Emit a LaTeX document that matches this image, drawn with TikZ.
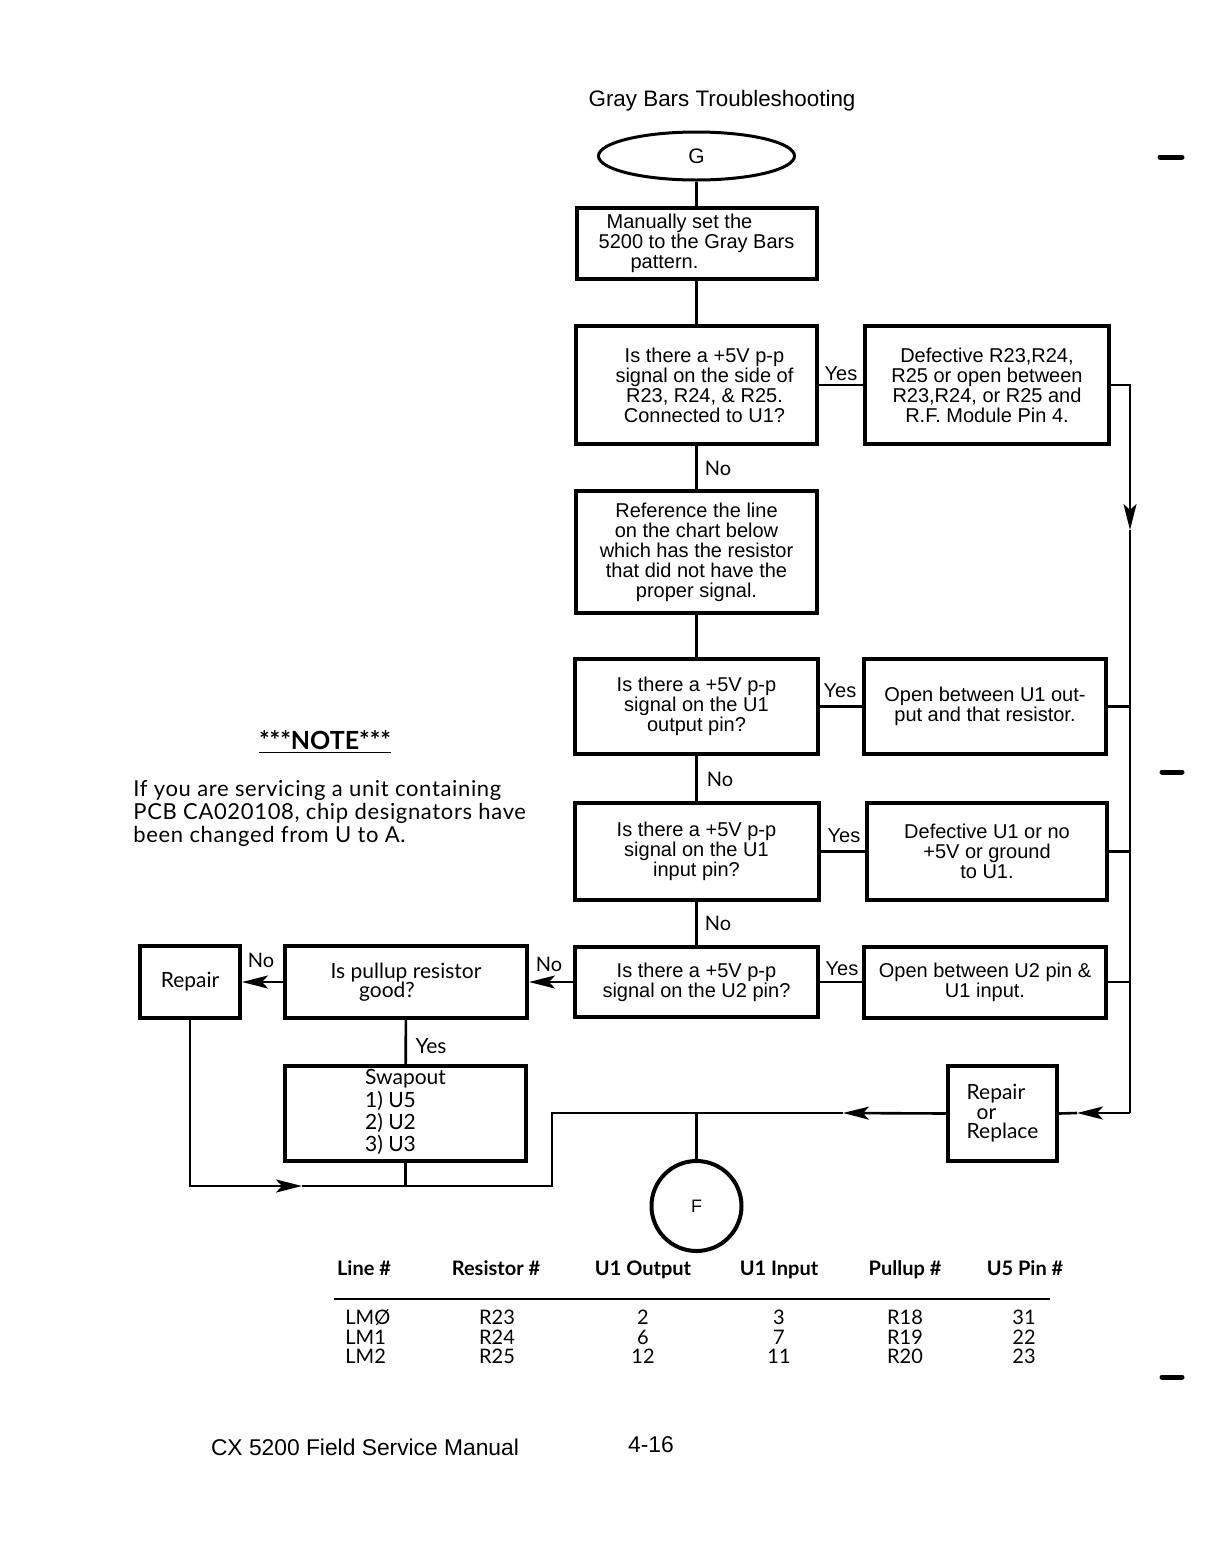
\documentclass[tikz,border=0pt]{standalone}
\usepackage{fontspec}
\setmainfont{Liberation Sans}
\newfontfamily\opt{Lato}
\newfontfamily\optw{Lato}[LetterSpace=3]
\usetikzlibrary{arrows.meta,shapes.geometric}
\begin{document}
\begin{tikzpicture}[x=0.5pt,y=-0.5pt,
  box/.style={draw,line width=2pt,align=center,inner sep=1pt,font=\fontsize{10}{10}\selectfont},
  obox/.style={draw,line width=2pt,align=center,inner sep=1pt,font=\opt\fontsize{10.5}{9.8}\selectfont},
  conn/.style={line width=1.3pt},
  tip/.style={-{Stealth[length=13pt,width=6.5pt,inset=3pt]}},
  lbl/.style={font=\fontsize{10}{10}\selectfont,inner sep=0pt},
  olbl/.style={font=\opt\fontsize{10}{10}\selectfont,inner sep=0pt},
  th/.style={font=\opt\bfseries\fontsize{10}{10}\selectfont,inner sep=0pt,text height=7.5pt,text depth=2pt},
  td/.style={font=\opt\fontsize{10}{10}\selectfont,inner sep=0pt,text height=7.5pt,text depth=2pt},
  edgemark/.style={line width=2.5pt,line cap=round}]
\useasboundingbox (0,0) rectangle (1218,1564);

% title
\node[font=\fontsize{11.2}{12}\selectfont] (title) at (722,101) {Gray Bars Troubleshooting};

% main column
\node[draw,ellipse,line width=1.5pt,minimum width=98pt,minimum height=24pt,inner sep=0pt,font=\fontsize{10.5}{10}\selectfont] (G) at (696.5,156) {G};
\node[box,minimum width=120pt,minimum height=35.5pt] (B1) at (696.5,243.5) {Manually set the\hspace*{17pt}\\5200 to the Gray Bars\hspace*{6pt}\\pattern.\hspace*{32pt}};
\node[box,minimum width=120.5pt,minimum height=59pt] (B2) at (696.5,385) {\hspace*{8pt}Is there a +5V p-p\\\hspace*{8pt}signal on the side of\\\hspace*{8pt}R23, R24, \& R25.\\\hspace*{8pt}Connected to U1?};
\node[box,minimum width=122pt,minimum height=59pt] (R1) at (987,385) {Defective R23,R24,\\R25 or open between\\R23,R24, or R25 and\\R.F. Module Pin 4.};
\node[box,minimum width=120.5pt,minimum height=61pt] (B3) at (696.5,552) {Reference the line\\on the chart below\\which has the resistor\\that did not have the\\proper signal.};
\node[box,minimum width=121.5pt,minimum height=47.5pt] (B4) at (696.5,706.5) {Is there a +5V p-p\\signal on the U1\\output pin?};
\node[box,minimum width=121pt,minimum height=47.5pt] (R2) at (985,706.5) {Open between U1 out-\\put and that resistor.};
\node[box,minimum width=122pt,minimum height=48.5pt] (B5) at (696.5,851.5) {Is there a +5V p-p\\signal on the U1\\input pin?};
\node[box,minimum width=120pt,minimum height=48.5pt] (R3) at (987,851.5) {Defective U1 or no\\+5V or ground\\to U1.};
\node[box,minimum width=121.5pt,minimum height=35pt] (B6) at (696.5,982) {Is there a +5V p-p\\signal on the U2 pin?};
\node[box,minimum width=121pt,minimum height=35.5pt] (R4) at (985,982) {Open between U2 pin \&\\U1 input.};

% left side
\node[obox,minimum width=121pt,minimum height=36pt] (Pull) at (406,982) {Is pullup resistor\\\hspace*{-19pt}good?};
\node[obox,minimum width=50pt,minimum height=36pt] (Rep) at (190,982) {Repair};
\node[obox,minimum width=120.5pt,minimum height=47.5pt,align=left] (Swap) at (405.5,1113.5) {\begin{tabular}{@{}l@{}}Swapout\\1) U5\\2) U2\\3) U3\end{tabular}};
\node[obox,minimum width=54.5pt,minimum height=47.5pt,align=left] (RR) at (1002.5,1113.5) {Repair\\\hspace*{5pt}or\\Replace};
\node[draw,circle,line width=2pt,minimum size=45pt,inner sep=0pt,font=\fontsize{9}{9}\selectfont] (F) at (696.5,1206) {F};

% coordinates
\coordinate (busT) at (1130,385);
\coordinate (aB) at (1130,530);
\coordinate (busB) at (1130,1113);
\coordinate (aRR) at (1077,1113);
\coordinate (aL) at (843,1113);
\coordinate (jF) at (696.5,1113);
\coordinate (jL) at (552,1113);
\coordinate (jLb) at (552,1186);
\coordinate (aR) at (302,1186);

% connectors main column
\draw[conn] (G) -- (B1);
\draw[conn] (B1) -- (B2);
\draw[conn] (B2) -- (B3);
\draw[conn] (B3) -- (B4);
\draw[conn] (B4) -- (B5);
\draw[conn] (B5) -- (B6);
\draw[conn] (B2) -- (R1);
\draw[conn] (B4) -- (R2);
\draw[conn] (B5) -- (R3);
\draw[conn] (B6) -- (R4);

% right bus
\draw[conn,tip] (R1.east) -- (busT) -- (aB);
\draw[conn] (aB) -- (busB);
\draw[conn] (R2.east) -- (R2.east -| busT);
\draw[conn] (R3.east) -- (R3.east -| busT);
\draw[conn] (R4.east) -- (R4.east -| busT);
\draw[conn,tip] (busB) -- (aRR);
\draw[conn] (aRR) -- (RR.east);

% bottom
\draw[conn,tip] (RR.west) -- (aL);
\draw[conn] (aL) -- (jF) -- (jL) -- (jLb) -- (aR);
\draw[conn] (jF) -- (F);
\draw[conn,tip] (Rep.south) |- (aR);
\draw[conn] (Swap) -- (Swap.south |- jLb);

% left branch
\draw[conn,tip] (B6) -- (Pull);
\draw[conn,tip] (Pull) -- (Rep);
\draw[conn] (Pull) -- (Swap);

% labels
\node[lbl] (y1) at (841,374) {Yes};
\node[olbl] (n1) at (718,468) {No};
\node[lbl] (y2) at (840,691) {Yes};
\node[olbl] (n2) at (720,779) {No};
\node[lbl] (y3) at (844,836) {Yes};
\node[olbl] (n3) at (718,923) {No};
\node[lbl] (y4) at (842,969) {Yes};
\node[olbl] (n4) at (549,964) {No};
\node[olbl] (n5) at (261,960) {No};
\node[olbl,font=\opt\fontsize{10.5}{10}\selectfont] (y5) at (431,1046) {Yes};

% note
\node[font=\opt\bfseries\fontsize{12.5}{12}\selectfont] (noteh) at (325,742) {\underline{***NOTE***}};
\node[anchor=west,align=left,inner sep=0pt,font=\optw\fontsize{11}{11.5}\selectfont] (note) at (133,813) {If you are servicing a unit containing\\PCB CA020108, chip designators have\\been changed from U to A.};

% table
\node[th] (h1) at (364,1270) {Line \#};
\node[th] (h2) at (496,1270) {Resistor \#};
\node[th] (h3) at (643,1270) {U1 Output};
\node[th] (h4) at (779,1270) {U1 Input};
\node[th] (h5) at (905,1270) {Pullup \#};
\node[th] (h6) at (1025,1270) {U5 Pin \#};
\draw[line width=1.1pt] (334,1299) -- (1050,1299);
\node[td,anchor=west] (c11) at (345,1319) {LMØ};
\node[td,anchor=west] (c21) at (345,1339) {LM1};
\node[td,anchor=west] (c31) at (345,1358) {LM2};
\node[td] (c12) at (497,1319) {R23};
\node[td] (c22) at (497,1339) {R24};
\node[td] (c32) at (497,1358) {R25};
\node[td] (c13) at (643,1319) {2};
\node[td] (c23) at (643,1339) {6};
\node[td] (c33) at (643,1358) {12};
\node[td] (c14) at (779,1319) {3};
\node[td] (c24) at (779,1339) {7};
\node[td] (c34) at (779,1358) {11};
\node[td] (c15) at (905,1319) {R18};
\node[td] (c25) at (905,1339) {R19};
\node[td] (c35) at (905,1358) {R20};
\node[td] (c16) at (1024,1319) {31};
\node[td] (c26) at (1024,1339) {22};
\node[td] (c36) at (1024,1358) {23};

% footer
\node[font=\fontsize{11.4}{12}\selectfont] (foot) at (365,1447) {CX 5200 Field Service Manual};
\node[font=\fontsize{11.4}{12}\selectfont] (page) at (651,1445) {4-16};

% page edge marks
\draw[edgemark] (1160,157) -- (1182,157);
\draw[edgemark] (1162,772) -- (1182,772);
\draw[edgemark] (1162,1377) -- (1182,1377);
\end{tikzpicture}
\end{document}
